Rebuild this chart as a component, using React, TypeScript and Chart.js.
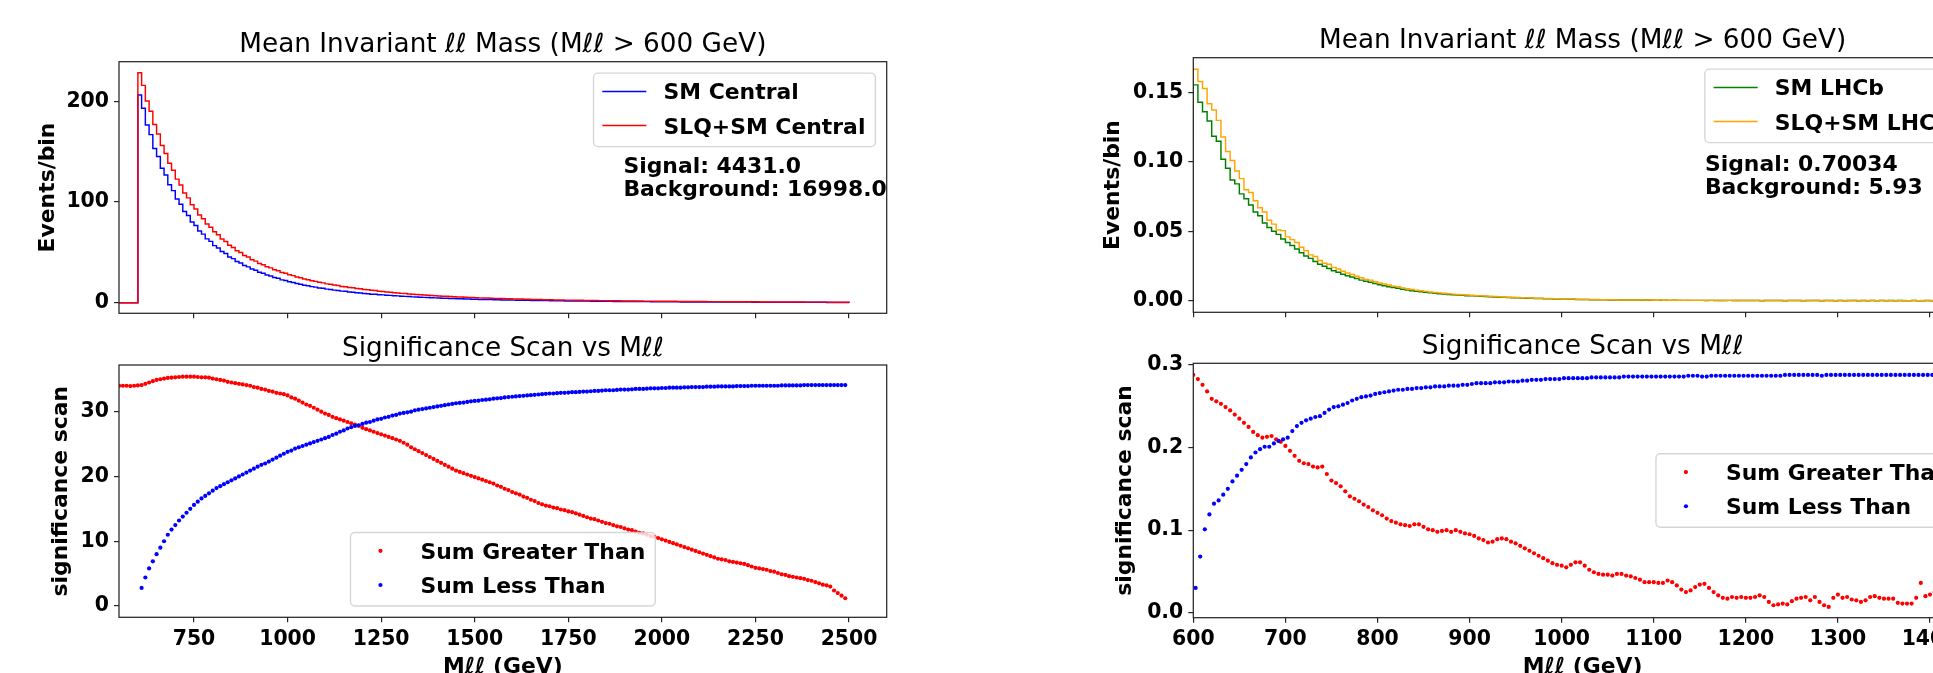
import React, { useEffect, useRef } from "react";
import { Chart, registerables } from "chart.js";

Chart.register(...registerables);

const FONT = '"DejaVu Sans", "Liberation Sans", Arial, sans-serif';
Chart.defaults.font.family = FONT;
Chart.defaults.color = "#000";

// ================= TEXT & TICKS =================
const histTitle = "Mean Invariant ℓℓ Mass (Mℓℓ > 600 GeV)";
const scanTitle = "Significance Scan vs Mℓℓ";
const massLabel = "Mℓℓ (GeV)";

const centralMassTicks = [750, 1000, 1250, 1500, 1750, 2000, 2250, 2500];
const lhcbMassTicks = [600, 700, 800, 900, 1000, 1100, 1200, 1300, 1400];
const centralEventTicks = [0, 100, 200];
const centralScanTicks = [0, 10, 20, 30];
const lhcbEventTicks = [0, 0.05, 0.1, 0.15];
const lhcbScanTicks = [0, 0.1, 0.2, 0.3];

// ================= DATA: left figure (Central) =================
const centralHistEmptyFrom = 500; // GeV, empty bins before 600
const centralHistFirstEdge = 600; // GeV
const centralHistBinWidth = 10; // GeV

// Events/bin, SM Central (bins from 600 GeV, 10 GeV wide)
const smCentral = [
  206.2, 193.0, 176.4, 166.9, 153.2, 145.1, 133.6, 126.8, 117.2, 111.3,
  102.9, 97.8, 90.6, 86.5, 80.1, 76.6, 71.2, 68.1, 63.4, 60.9,
  56.7, 54.3, 50.8, 48.9, 45.5, 43.8, 41.0, 39.5, 36.9, 35.6,
  33.4, 32.3, 30.2, 29.2, 27.5, 26.6, 25.0, 24.2, 22.7, 22.0,
  20.8, 20.1, 19.0, 18.4, 17.4, 16.9, 16.0, 15.5, 14.7, 14.3,
  13.5, 13.2, 12.5, 12.2, 11.5, 11.3, 10.7, 10.5, 9.9, 9.7,
  9.2, 9.0, 8.5, 8.4, 7.9, 7.8, 7.4, 7.3, 6.9, 6.8,
  6.4, 6.3, 6.1, 5.8, 5.7, 5.5, 5.3, 5.2, 4.9, 4.8,
  4.7, 4.5, 4.4, 4.2, 4.1, 4.0, 3.9, 3.7, 3.7, 3.5,
  3.4, 3.3, 3.3, 3.1, 3.1, 3.0, 2.9, 2.8, 2.8, 2.7,
  2.6, 2.5, 2.5, 2.4, 2.4, 2.3, 2.2, 2.2, 2.1, 2.1,
  2.0, 2.0, 1.9, 1.9, 1.8, 1.8, 1.7, 1.7, 1.7, 1.6,
  1.6, 1.5, 1.5, 1.5, 1.4, 1.4, 1.4, 1.3, 1.3, 1.3,
  1.2, 1.2, 1.2, 1.1, 1.1, 1.1, 1.1, 1.0, 1.0, 1.0,
  1.0, 0.9, 0.9, 0.9, 0.9, 0.8, 0.8, 0.8, 0.8, 0.8,
  0.8, 0.7, 0.7, 0.7, 0.7, 0.7, 0.7, 0.6, 0.6, 0.6,
  0.6, 0.6, 0.6, 0.6, 0.5, 0.5, 0.5, 0.5, 0.5, 0.5,
  0.5, 0.5, 0.5, 0.4, 0.4, 0.4, 0.4, 0.4, 0.4, 0.4,
  0.4, 0.4, 0.4, 0.4, 0.3, 0.3, 0.3, 0.3, 0.3, 0.3,
];

// Events/bin, SLQ+SM Central
const slqSmCentral = [
  228.3, 215.8, 200.2, 190.1, 176.9, 167.5, 156.0, 148.2, 138.4, 131.6,
  122.7, 116.9, 109.0, 104.1, 97.2, 93.0, 87.0, 83.4, 78.1, 75.0,
  70.4, 67.5, 63.3, 60.8, 57.0, 54.8, 51.7, 49.8, 46.8, 45.3,
  42.7, 41.3, 38.9, 37.6, 35.7, 34.6, 32.8, 31.8, 30.1, 29.3,
  27.8, 26.9, 25.6, 24.8, 23.6, 22.9, 21.9, 21.2, 20.3, 19.7,
  18.7, 18.3, 17.5, 17.0, 16.2, 15.9, 15.2, 14.9, 14.2, 13.8,
  13.2, 12.9, 12.3, 12.1, 11.4, 11.2, 10.6, 10.5, 9.9, 9.7,
  9.3, 9.1, 8.7, 8.5, 8.1, 8.0, 7.6, 7.5, 7.1, 7.0,
  6.7, 6.5, 6.4, 6.1, 6.0, 5.7, 5.6, 5.4, 5.3, 5.1,
  5.0, 4.8, 4.7, 4.6, 4.4, 4.3, 4.2, 4.1, 4.0, 3.9,
  3.8, 3.7, 3.6, 3.5, 3.4, 3.3, 3.2, 3.1, 3.0, 3.0,
  2.9, 2.8, 2.8, 2.7, 2.6, 2.6, 2.5, 2.4, 2.4, 2.3,
  2.3, 2.2, 2.2, 2.1, 2.1, 2.0, 2.0, 1.9, 1.9, 1.8,
  1.8, 1.8, 1.7, 1.7, 1.7, 1.6, 1.6, 1.6, 1.5, 1.5,
  1.5, 1.4, 1.4, 1.4, 1.3, 1.3, 1.3, 1.3, 1.2, 1.2,
  1.2, 1.2, 1.1, 1.1, 1.1, 1.1, 1.0, 1.0, 1.0, 1.0,
  1.0, 0.9, 0.9, 0.9, 0.9, 0.9, 0.8, 0.8, 0.8, 0.8,
  0.8, 0.8, 0.7, 0.7, 0.7, 0.7, 0.7, 0.7, 0.6, 0.6,
  0.6, 0.6, 0.6, 0.6, 0.6, 0.5, 0.5, 0.5, 0.5, 0.5,
];

const centralScanStep = 10; // GeV
const centralGreaterFirstX = 550; // GeV
const centralLessFirstX = 610; // GeV

// significance scan, Sum Greater Than (from 550 GeV every 10 GeV)
const sumGreaterCentral = [
  34.0, 34.0, 34.0, 33.95, 34.0, 34.05, 34.1, 34.3, 34.5, 34.7,
  34.9, 35.0, 35.1, 35.2, 35.25, 35.3, 35.35, 35.4, 35.4, 35.4,
  35.4, 35.35, 35.3, 35.3, 35.25, 35.1, 35.0, 34.9, 34.8, 34.6,
  34.5, 34.4, 34.3, 34.2, 34.1, 34.0, 33.8, 33.7, 33.5, 33.4,
  33.2, 33.1, 32.9, 32.8, 32.7, 32.5, 32.2, 32.0, 31.7, 31.4,
  31.1, 30.9, 30.6, 30.3, 30.0, 29.7, 29.5, 29.2, 29.0, 28.8,
  28.6, 28.4, 28.2, 28.0, 27.8, 27.5, 27.3, 27.1, 26.9, 26.7,
  26.5, 26.3, 26.1, 25.9, 25.7, 25.5, 25.2, 24.9, 24.5, 24.2,
  23.9, 23.6, 23.3, 23.0, 22.7, 22.4, 22.1, 21.8, 21.5, 21.2,
  20.9, 20.7, 20.5, 20.3, 20.1, 19.9, 19.7, 19.5, 19.3, 19.1,
  18.9, 18.6, 18.4, 18.1, 17.9, 17.6, 17.4, 17.2, 16.9, 16.7,
  16.4, 16.2, 15.9, 15.7, 15.5, 15.4, 15.2, 15.1, 14.9, 14.8,
  14.6, 14.5, 14.3, 14.1, 13.9, 13.7, 13.5, 13.4, 13.2, 13.0,
  12.8, 12.7, 12.5, 12.3, 12.2, 12.0, 11.8, 11.7, 11.5, 11.3,
  11.2, 11.0, 10.8, 10.7, 10.5, 10.3, 10.1, 9.9, 9.7, 9.5,
  9.3, 9.1, 8.9, 8.7, 8.5, 8.3, 8.1, 7.9, 7.7, 7.5,
  7.3, 7.2, 7.1, 6.9, 6.8, 6.7, 6.6, 6.5, 6.3, 6.1,
  5.9, 5.8, 5.7, 5.6, 5.4, 5.3, 5.1, 4.9, 4.8, 4.6,
  4.5, 4.4, 4.3, 4.2, 4.0, 3.9, 3.7, 3.5, 3.3, 3.2,
  3.0, 2.4, 2.0, 1.6, 1.2,
];

// significance scan, Sum Less Than (from 610 GeV every 10 GeV)
const sumLessCentral = [
  2.8, 4.4, 5.8, 6.9, 8.0, 9.0, 10.0, 11.0, 11.8, 12.5,
  13.2, 13.8, 14.4, 15.0, 15.6, 16.1, 16.6, 17.0, 17.4, 17.8,
  18.2, 18.5, 18.8, 19.1, 19.4, 19.7, 20.0, 20.3, 20.6, 20.9,
  21.2, 21.5, 21.8, 22.0, 22.3, 22.6, 22.9, 23.2, 23.5, 23.8,
  24.0, 24.3, 24.5, 24.7, 24.9, 25.1, 25.3, 25.5, 25.7, 25.9,
  26.1, 26.4, 26.6, 26.9, 27.1, 27.4, 27.6, 27.8, 27.9, 28.1,
  28.3, 28.4, 28.6, 28.8, 28.9, 29.1, 29.2, 29.4, 29.5, 29.7,
  29.8, 29.9, 30.0, 30.2, 30.3, 30.4, 30.5, 30.6, 30.7, 30.8,
  30.9, 31.0, 31.1, 31.2, 31.3, 31.35, 31.4, 31.5, 31.6, 31.65,
  31.7, 31.8, 31.85, 31.9, 32.0, 32.05, 32.1, 32.2, 32.25, 32.3,
  32.35, 32.4, 32.45, 32.5, 32.55, 32.6, 32.65, 32.7, 32.75, 32.8,
  32.8, 32.85, 32.9, 32.9, 32.95, 33.0, 33.0, 33.05, 33.1, 33.1,
  33.15, 33.2, 33.2, 33.25, 33.3, 33.3, 33.3, 33.35, 33.4, 33.4,
  33.4, 33.45, 33.5, 33.5, 33.5, 33.55, 33.6, 33.6, 33.6, 33.65,
  33.65, 33.7, 33.7, 33.7, 33.7, 33.75, 33.75, 33.8, 33.8, 33.8,
  33.8, 33.85, 33.85, 33.85, 33.9, 33.9, 33.9, 33.9, 33.9, 33.95,
  33.95, 33.95, 33.95, 34.0, 34.0, 34.0, 34.0, 34.0, 34.0, 34.0,
  34.0, 34.05, 34.05, 34.05, 34.05, 34.05, 34.05, 34.1, 34.1, 34.1,
  34.1, 34.1, 34.1, 34.1, 34.1, 34.1, 34.1, 34.1, 34.1,
];

const centralNote = ["Signal: 4431.0", "Background: 16998.0"];

// ================= DATA: right figure (LHCb) =================
const lhcbHistFirstEdge = 600; // GeV
const lhcbHistBinWidth = 5; // GeV

// Events/bin, SM LHCb (bins from 600 GeV, 5 GeV wide)
const smLHCb = [
  0.1556, 0.143, 0.1362, 0.1295, 0.1185, 0.115, 0.102, 0.0955, 0.087, 0.0842,
  0.077, 0.0735, 0.069, 0.064, 0.0612, 0.056, 0.0528, 0.05, 0.0478, 0.0445,
  0.042, 0.0398, 0.0372, 0.0345, 0.0322, 0.0305, 0.0282, 0.0262, 0.0248, 0.0232,
  0.0215, 0.0205, 0.019, 0.018, 0.017, 0.016, 0.0148, 0.014, 0.0132, 0.0124,
  0.0115, 0.0108, 0.01, 0.0094, 0.009, 0.0082, 0.0076, 0.0072, 0.0067, 0.0064,
  0.006, 0.0057, 0.0053, 0.005, 0.0047, 0.0045, 0.0042, 0.0041, 0.0038, 0.0036,
  0.0035, 0.0033, 0.0031, 0.003, 0.0028, 0.0027, 0.0025, 0.0024, 0.0023, 0.0021,
  0.002, 0.0019, 0.0018, 0.0017, 0.0016, 0.0015, 0.0014, 0.0013, 0.0012, 0.0012,
  0.0011, 0.001, 0.001, 0.0009, 0.0008, 0.0008, 0.0007, 0.0007, 0.0006, 0.0006,
  0.0005, 0.0005, 0.0005, 0.0004, 0.0004, 0.0004, 0.0004, 0.0003, 0.0004, 0.0003,
  0.0003, 0.0003, 0.0003, 0.0002, 0.0003, 0.0002, 0.0002, 0.0002, 0.0002, 0.0002,
  0.0002, 0.0001, 0.0002, 0.0001, 0.0001, 0.0001, 0.0002, 0.0001, 0.0001, 0.0001,
  0.0001, 0.0001, 0.0001, 0.0, 0.0001, 0.0001, 0.0001, 0.0001, 0.0, 0.0001,
  0.0001, 0.0001, 0.0, 0.0001, 0.0001, 0.0001, 0.0, 0.0001, 0.0001, 0.0,
  0.0001, 0.0, 0.0001, 0.0001, 0.0, 0.0001, 0.0, 0.0001, 0.0, 0.0001,
  0.0, 0.0001, 0.0, 0.0001, 0.0, 0.0, 0.0001, 0.0, 0.0, 0.0001,
  0.0, 0.0001, 0.0, 0.0, 0.0001, 0.0, 0.0, 0.0001, 0.0,
];

// Events/bin, SLQ+SM LHCb
const slqSmLHCb = [
  0.1669, 0.158, 0.153, 0.142, 0.1375, 0.13, 0.118, 0.1075, 0.101, 0.0935,
  0.088, 0.08, 0.078, 0.072, 0.067, 0.064, 0.058, 0.0552, 0.051, 0.0505,
  0.046, 0.044, 0.042, 0.0385, 0.036, 0.033, 0.0318, 0.029, 0.027, 0.0262,
  0.024, 0.0228, 0.0212, 0.02, 0.0188, 0.0176, 0.0165, 0.0152, 0.0148, 0.0136,
  0.0128, 0.012, 0.0113, 0.0104, 0.01, 0.0092, 0.0086, 0.008, 0.0076, 0.0071,
  0.0067, 0.0063, 0.0059, 0.0056, 0.0053, 0.005, 0.0047, 0.0045, 0.0042, 0.004,
  0.0039, 0.0036, 0.0035, 0.0033, 0.0031, 0.003, 0.0028, 0.0027, 0.0025, 0.0024,
  0.0022, 0.0021, 0.002, 0.0019, 0.0018, 0.0017, 0.0016, 0.0015, 0.0014, 0.0013,
  0.0012, 0.0012, 0.0011, 0.001, 0.0009, 0.0009, 0.0008, 0.0008, 0.0007, 0.0007,
  0.0006, 0.0006, 0.0005, 0.0005, 0.0005, 0.0004, 0.0005, 0.0004, 0.0004, 0.0004,
  0.0003, 0.0004, 0.0003, 0.0003, 0.0003, 0.0003, 0.0002, 0.0003, 0.0002, 0.0002,
  0.0002, 0.0002, 0.0002, 0.0002, 0.0001, 0.0002, 0.0002, 0.0001, 0.0001, 0.0002,
  0.0001, 0.0001, 0.0002, 0.0001, 0.0001, 0.0001, 0.0001, 0.0001, 0.0001, 0.0001,
  0.0001, 0.0001, 0.0001, 0.0, 0.0001, 0.0001, 0.0001, 0.0001, 0.0, 0.0001,
  0.0001, 0.0001, 0.0, 0.0001, 0.0001, 0.0, 0.0001, 0.0001, 0.0, 0.0001,
  0.0001, 0.0, 0.0001, 0.0, 0.0001, 0.0, 0.0001, 0.0, 0.0001, 0.0,
  0.0001, 0.0, 0.0, 0.0001, 0.0, 0.0001, 0.0, 0.0, 0.0001,
];

const lhcbScanStep = 5; // GeV
const lhcbGreaterFirstX = 600; // GeV
const lhcbLessFirstX = 602.5; // GeV

// significance scan, Sum Greater Than (from 600 GeV every 5 GeV)
const sumGreaterLHCb = [
  0.288, 0.283, 0.276, 0.268, 0.259, 0.256, 0.253, 0.249, 0.245, 0.24,
  0.235, 0.23, 0.225, 0.219, 0.215, 0.212, 0.213, 0.214, 0.21, 0.207,
  0.202, 0.196, 0.19, 0.184, 0.181, 0.18, 0.177, 0.176, 0.177, 0.168,
  0.16, 0.157, 0.153, 0.147, 0.141, 0.138, 0.135, 0.131, 0.128, 0.124,
  0.121, 0.118, 0.114, 0.111, 0.109, 0.107, 0.106, 0.105, 0.107, 0.107,
  0.104, 0.101, 0.1, 0.098, 0.099, 0.1, 0.098, 0.1, 0.098, 0.096,
  0.095, 0.093, 0.09, 0.088, 0.085, 0.086, 0.089, 0.09, 0.089, 0.086,
  0.084, 0.081, 0.078, 0.075, 0.072, 0.069, 0.066, 0.063, 0.06, 0.058,
  0.057, 0.055, 0.058, 0.061, 0.061, 0.057, 0.052, 0.049, 0.047, 0.046,
  0.046, 0.045, 0.047, 0.047, 0.045, 0.044, 0.042, 0.04, 0.037, 0.037,
  0.037, 0.036, 0.036, 0.039, 0.037, 0.033, 0.028, 0.025, 0.027, 0.031,
  0.034, 0.035, 0.03, 0.025, 0.021, 0.018, 0.017, 0.019, 0.018, 0.019,
  0.018, 0.018, 0.019, 0.021, 0.019, 0.013, 0.009, 0.01, 0.011, 0.01,
  0.014, 0.017, 0.018, 0.019, 0.015, 0.019, 0.013, 0.009, 0.007, 0.018,
  0.022, 0.018, 0.019, 0.016, 0.015, 0.013, 0.015, 0.019, 0.02, 0.018,
  0.017, 0.017, 0.017, 0.012, 0.011, 0.011, 0.011, 0.018, 0.036, 0.02,
  0.022, 0.025, 0.022, 0.02, 0.024, 0.021, 0.019, 0.023, 0.025,
];

// significance scan, Sum Less Than (from 602.5 GeV every 5 GeV)
const sumLessLHCb = [
  0.03, 0.068, 0.101, 0.119, 0.132, 0.136, 0.143, 0.15, 0.159, 0.166,
  0.173, 0.18, 0.188, 0.194, 0.198, 0.201, 0.201, 0.205, 0.208, 0.21,
  0.212, 0.22, 0.226, 0.23, 0.233, 0.235, 0.237, 0.238, 0.242, 0.246,
  0.249, 0.25, 0.252, 0.254, 0.257, 0.259, 0.261, 0.262, 0.263, 0.265,
  0.266, 0.267, 0.268, 0.269, 0.27, 0.27, 0.271, 0.271, 0.272, 0.272,
  0.273, 0.273, 0.274, 0.274, 0.274, 0.275, 0.275, 0.275, 0.276, 0.276,
  0.277, 0.278, 0.278, 0.278, 0.278, 0.279, 0.279, 0.279, 0.28, 0.28,
  0.28, 0.281, 0.281, 0.282, 0.282, 0.282, 0.283, 0.283, 0.283, 0.283,
  0.284, 0.284, 0.284, 0.284, 0.284, 0.284, 0.285, 0.285, 0.285, 0.285,
  0.285, 0.285, 0.285, 0.286, 0.286, 0.286, 0.286, 0.286, 0.286, 0.286,
  0.286, 0.286, 0.286, 0.286, 0.286, 0.286, 0.286, 0.287, 0.287, 0.287,
  0.286, 0.286, 0.287, 0.287, 0.287, 0.287, 0.287, 0.287, 0.287, 0.287,
  0.287, 0.287, 0.287, 0.287, 0.287, 0.287, 0.287, 0.287, 0.288, 0.288,
  0.288, 0.288, 0.288, 0.288, 0.288, 0.288, 0.287, 0.288, 0.288, 0.288,
  0.288, 0.288, 0.288, 0.288, 0.288, 0.288, 0.288, 0.288, 0.288, 0.288,
  0.288, 0.288, 0.288, 0.288, 0.288, 0.288, 0.288, 0.288, 0.288, 0.288,
  0.288, 0.288, 0.288, 0.288, 0.288, 0.288, 0.288, 0.288, 0.288,
];

const lhcbNote = ["Signal: 0.70034", "Background: 5.93"];

// ================= helpers =================
function histPoints(values: number[], firstEdge: number, width: number, emptyFrom: number) {
  const pts: { x: number; y: number }[] = [{ x: emptyFrom, y: 0 }];
  values.forEach((v, i) => pts.push({ x: firstEdge + i * width, y: v }));
  pts.push({ x: firstEdge + values.length * width, y: 0 });
  return pts;
}
function scanPoints(values: number[], firstX: number, step: number) {
  return values.map((v, i) => ({ x: firstX + i * step, y: v }));
}

const tickFont = { family: FONT, size: 20.4, weight: "bold" as const };
const labelFont = { family: FONT, size: 21.9, weight: "bold" as const };
const titleFont = { family: FONT, size: 26.3, weight: "normal" as const };
const SPINE = "#262626";

function roundRectPath(ctx: any, x: number, y: number, w: number, h: number, r: number) {
  ctx.beginPath();
  ctx.moveTo(x + r, y);
  ctx.lineTo(x + w - r, y);
  ctx.arcTo(x + w, y, x + w, y + r, r);
  ctx.lineTo(x + w, y + h - r);
  ctx.arcTo(x + w, y + h, x + w - r, y + h, r);
  ctx.lineTo(x + r, y + h);
  ctx.arcTo(x, y + h, x, y + h - r, r);
  ctx.lineTo(x, y + r);
  ctx.arcTo(x, y, x + r, y, r);
  ctx.closePath();
}

function decor(cfg: any) {
  return {
    id: "mplDecor",
    afterDatasetsDraw(chart: any) {
      const { ctx, chartArea: a } = chart;
      const w = a.right - a.left;
      const h = a.bottom - a.top;
      ctx.save();
      ctx.strokeStyle = SPINE;
      ctx.lineWidth = 1.25;
      ctx.strokeRect(a.left, a.top, w, h);
      ctx.font = `bold 21.9px ${FONT}`;
      ctx.fillStyle = "#000";
      ctx.textAlign = "left";
      ctx.textBaseline = "alphabetic";
      if (cfg.note) {
        const x = a.left + cfg.note.fx * w;
        const y0 = a.bottom - cfg.note.fy * h;
        cfg.note.lines.forEach((t: string, i: number) => ctx.fillText(t, x, y0 + i * 22.8));
      }
      if (cfg.legend) {
        const items = chart.data.datasets.map((d: any) => ({
          label: d.label,
          color: cfg.legend.kind === "dot" ? d.pointBackgroundColor : d.borderColor,
        }));
        const tw = Math.max(...items.map((it: any) => ctx.measureText(it.label).width));
        const bw = 70 + tw + 10;
        const bh = 73.5;
        let bx: number, by: number;
        if (cfg.legend.loc === "upper right") {
          bx = a.right - 11.3 - bw;
          by = a.top + 11.4;
        } else if (cfg.legend.loc === "lower center") {
          bx = (a.left + a.right) / 2 - bw / 2;
          by = a.bottom - 11.3 - bh;
        } else {
          bx = a.right - 11.3 - bw;
          by = (a.top + a.bottom) / 2 - bh / 2;
        }
        roundRectPath(ctx, bx, by, bw, bh, 4.4);
        ctx.fillStyle = "rgba(255,255,255,0.8)";
        ctx.fill();
        ctx.strokeStyle = "rgba(204,204,204,0.8)";
        ctx.lineWidth = 1.4;
        ctx.stroke();
        items.forEach((it: any, i: number) => {
          const y = by + 18.3 + i * 34.2;
          if (cfg.legend.kind === "dot") {
            ctx.beginPath();
            ctx.arc(bx + 30, y, 2.1, 0, Math.PI * 2);
            ctx.fillStyle = it.color;
            ctx.fill();
          } else {
            ctx.beginPath();
            ctx.moveTo(bx + 8.8, y);
            ctx.lineTo(bx + 52.8, y);
            ctx.strokeStyle = it.color;
            ctx.lineWidth = 1.46;
            ctx.stroke();
          }
          ctx.fillStyle = "#000";
          ctx.fillText(it.label, bx + 70, y + 8);
        });
      }
      ctx.restore();
    },
  };
}

function gridOpts() {
  return {
    display: true,
    drawOnChartArea: false,
    drawTicks: true,
    tickLength: 5,
    tickWidth: 1.2,
    tickColor: SPINE,
    color: SPINE,
    lineWidth: 1.2,
  };
}

function buildConfig(p: any) {
  return {
    type: p.type,
    data: { datasets: p.datasets },
    options: {
      responsive: false,
      maintainAspectRatio: false,
      animation: false,
      devicePixelRatio: 1,
      events: [],
      layout: { padding: { left: 0, top: 0, right: p.padRight, bottom: 0 } },
      plugins: {
        legend: { display: false },
        tooltip: { enabled: false },
        title: {
          display: true,
          text: p.title,
          fullSize: false,
          color: "#000",
          font: titleFont,
          padding: { top: p.titleTop, bottom: p.titleBottom },
        },
      },
      scales: {
        x: {
          type: "linear",
          min: p.xMin,
          max: p.xMax,
          afterBuildTicks: (s: any) => {
            s.ticks = p.xTicks.map((v: number) => ({ value: v }));
          },
          ticks: {
            display: p.xLabels,
            autoSkip: false,
            maxRotation: 0,
            padding: 5,
            color: "#000",
            font: tickFont,
            callback: (v: number) => String(v),
          },
          grid: gridOpts(),
          border: { display: false },
          title: p.xLabels
            ? { display: true, text: massLabel, color: "#000", font: labelFont, padding: { top: 0, bottom: 19.4 } }
            : { display: false },
          afterFit: (s: any) => {
            s.height = p.xHeight;
          },
        },
        y: {
          type: "linear",
          min: p.yMin,
          max: p.yMax,
          afterBuildTicks: (s: any) => {
            s.ticks = p.yTicks.map((v: number) => ({ value: v }));
          },
          ticks: {
            autoSkip: false,
            padding: 5,
            color: "#000",
            font: tickFont,
            callback: p.yFmt,
          },
          grid: gridOpts(),
          border: { display: false },
          title: { display: true, text: p.yTitle, color: "#000", font: labelFont, padding: { top: p.yTitlePad, bottom: 0 } },
          afterFit: (s: any) => {
            s.width = p.yWidth;
          },
        },
      },
    },
    plugins: [decor(p.decor)],
  };
}

function histDataset(label: string, color: string, pts: any[], order: number) {
  return { label, data: pts, borderColor: color, backgroundColor: color, borderWidth: 1.46, pointRadius: 0, stepped: "before", fill: false, order };
}
function scanDataset(label: string, color: string, pts: any[], order: number) {
  return { label, data: pts, pointRadius: 2.1, pointBorderWidth: 0, pointBackgroundColor: color, backgroundColor: color, borderColor: color, showLine: false, order };
}

const panels = [
  {
    key: "lt",
    left: 0, top: 0, width: 930, height: 335,
    cfg: () =>
      buildConfig({
        type: "line",
        title: histTitle, titleTop: 29.8, titleBottom: 0.34,
        padRight: 43.3,
        xMin: 549.6, xMax: 2600.7, xTicks: centralMassTicks, xLabels: false, xHeight: 21.7,
        yMin: -10.5, yMax: 239.3, yTicks: centralEventTicks, yFmt: (v: number) => String(v),
        yTitle: "Events/bin", yTitlePad: 35.6, yWidth: 119,
        datasets: [
          histDataset("SM Central", "#0000ff", histPoints(smCentral, centralHistFirstEdge, centralHistBinWidth, centralHistEmptyFrom), 2),
          histDataset("SLQ+SM Central", "#ff0000", histPoints(slqSmCentral, centralHistFirstEdge, centralHistBinWidth, centralHistEmptyFrom), 1),
        ],
        decor: { legend: { loc: "upper right", kind: "line" }, note: { fx: 0.657, fy: 0.556, lines: centralNote } },
      }),
  },
  {
    key: "lb",
    left: 0, top: 320, width: 930, height: 380,
    cfg: () =>
      buildConfig({
        type: "scatter",
        title: scanTitle, titleTop: 13.2, titleBottom: 0.24,
        padRight: 43.3,
        xMin: 549.6, xMax: 2600.7, xTicks: centralMassTicks, xLabels: true, xHeight: 82.7,
        yMin: -1.74, yMax: 37.2, yTicks: centralScanTicks, yFmt: (v: number) => String(v),
        yTitle: "significance scan", yTitlePad: 48.2, yWidth: 119,
        datasets: [
          scanDataset("Sum Greater Than", "#ff0000", scanPoints(sumGreaterCentral, centralGreaterFirstX, centralScanStep), 2),
          scanDataset("Sum Less Than", "#0000ff", scanPoints(sumLessCentral, centralLessFirstX, centralScanStep), 1),
        ],
        decor: { legend: { loc: "lower center", kind: "dot" } },
      }),
  },
  {
    key: "rt",
    left: 1040, top: 0, width: 1000, height: 335,
    cfg: () =>
      buildConfig({
        type: "line",
        title: histTitle, titleTop: 25.8, titleBottom: 0.34,
        padRight: 68,
        xMin: 600, xMax: 1445.6, xTicks: lhcbMassTicks, xLabels: false, xHeight: 22.7,
        yMin: -0.0084, yMax: 0.1752, yTicks: lhcbEventTicks, yFmt: (v: number) => v.toFixed(2),
        yTitle: "Events/bin", yTitlePad: 60.2, yWidth: 153.3,
        datasets: [
          histDataset("SM LHCb", "#008000", histPoints(smLHCb, lhcbHistFirstEdge, lhcbHistBinWidth, lhcbHistFirstEdge), 2),
          histDataset("SLQ+SM LHCb", "#ffa500", histPoints(slqSmLHCb, lhcbHistFirstEdge, lhcbHistBinWidth, lhcbHistFirstEdge), 1),
        ],
        decor: { legend: { loc: "upper right", kind: "line" }, note: { fx: 0.657, fy: 0.556, lines: lhcbNote } },
      }),
  },
  {
    key: "rb",
    left: 1040, top: 320, width: 1000, height: 380,
    cfg: () =>
      buildConfig({
        type: "scatter",
        title: scanTitle, titleTop: 11.74, titleBottom: 0,
        padRight: 68,
        xMin: 600, xMax: 1445.6, xTicks: lhcbMassTicks, xLabels: true, xHeight: 82.3,
        yMin: -0.00606, yMax: 0.30206, yTicks: lhcbScanTicks, yFmt: (v: number) => v.toFixed(1),
        yTitle: "significance scan", yTitlePad: 72.4, yWidth: 153.3,
        datasets: [
          scanDataset("Sum Greater Than", "#ff0000", scanPoints(sumGreaterLHCb, lhcbGreaterFirstX, lhcbScanStep), 2),
          scanDataset("Sum Less Than", "#0000ff", scanPoints(sumLessLHCb, lhcbLessFirstX, lhcbScanStep), 1),
        ],
        decor: { legend: { loc: "center right", kind: "dot" } },
      }),
  },
];

function Panel({ left, top, width, height, cfg }: any) {
  const ref = useRef<HTMLCanvasElement | null>(null);
  useEffect(() => {
    if (!ref.current) return;
    const chart = new Chart(ref.current, cfg() as any);
    return () => chart.destroy();
  }, []);
  return (
    <canvas
      ref={ref}
      width={width}
      height={height}
      style={{ position: "absolute", left, top, width, height, display: "block" }}
    />
  );
}

export default function App() {
  return (
    <div
      style={{
        position: "fixed",
        left: 0,
        top: 0,
        width: 1933,
        height: 673,
        overflow: "hidden",
        background: "#fff",
      }}
    >
      {panels.map((p) => (
        <Panel key={p.key} left={p.left} top={p.top} width={p.width} height={p.height} cfg={p.cfg} />
      ))}
    </div>
  );
}
